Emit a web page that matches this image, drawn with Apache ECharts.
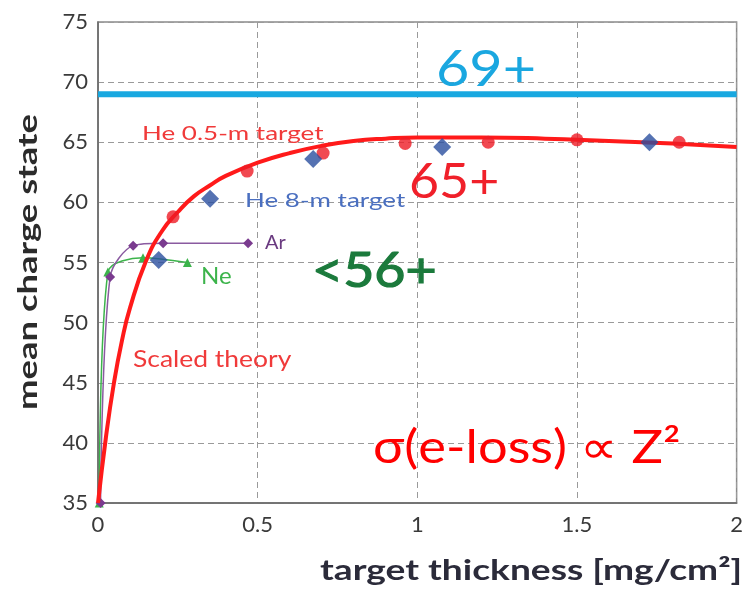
<!DOCTYPE html>
<html>
<head>
<meta charset="utf-8">
<script src="https://cdn.jsdelivr.net/npm/echarts@6/dist/echarts.min.js"></script>
<style>html,body{margin:0;padding:0;background:#fff}#c{width:746px;height:590px}</style>
</head>
<body>
<div id="c"></div>
<script>
// x: target thickness [mg/cm2], y: mean charge state
var xTicks = ['0', '0.5', '1', '1.5', '2'];
var yTicks = [35, 40, 45, 50, 55, 60, 65, 70, 75];
var theoryX = [0, 0.025, 0.05, 0.075, 0.1, 0.15, 0.2, 0.25, 0.3, 0.35, 0.4, 0.5, 0.6, 0.7, 0.8, 0.9, 1.0, 1.2, 1.4, 1.6, 1.8, 2.0];
var theoryY = [35, 40.5, 45, 48.5, 51.2, 55.1, 57.6, 59.2, 60.5, 61.4, 62.2, 63.3, 64.1, 64.7, 65.1, 65.3, 65.4, 65.4, 65.3, 65.1, 64.9, 64.6];
var he05X = [0.235, 0.467, 0.705, 0.962, 1.222, 1.50, 1.82];
var he05Y = [58.8, 62.6, 64.1, 64.9, 65.0, 65.2, 65.0];
var he8X = [0.19, 0.351, 0.674, 1.078, 1.727];
var he8Y = [55.2, 60.3, 63.6, 64.6, 65.0];
var arX = [0.008, 0.038, 0.11, 0.204, 0.47];
var arY = [35, 53.8, 56.4, 56.6, 56.6];
var neX = [0.004, 0.031, 0.141, 0.28];
var neY = [35, 54.2, 55.4, 55.0];
var limitX = [0, 2];
var limitY = [69, 69];

function pairs(xs, ys) { return xs.map(function (x, i) { return [x, ys[i]]; }); }

var FONT = 'Lato, "Open Sans", sans-serif';
function label(text, x, y, size, color, sx, extra) {
  var st = { text: text, fill: color, font: (extra && extra.weight ? extra.weight + ' ' : '') + size + 'px ' + FONT,
    align: 'left', verticalAlign: 'middle', textAlign: 'left', textVerticalAlign: 'middle' };
  if (extra && extra.stroke) { st.stroke = color; st.lineWidth = extra.stroke; }
  return { type: 'text', x: x, y: y, scaleX: sx, scaleY: 1, rotation: extra && extra.rot ? extra.rot : 0, z: 100, style: st };
}

var chart = echarts.init(document.getElementById('c'), null, { renderer: 'canvas' });
chart.setOption({
  animation: false,
  backgroundColor: '#ffffff',
  grid: { left: 98, right: 8, top: 22, bottom: 87, show: true, borderColor: '#8a8a8a', borderWidth: 1.5, backgroundColor: 'transparent' },
  xAxis: {
    type: 'value', min: 0, max: 2, interval: 0.5,
    axisLine: { show: true, lineStyle: { color: '#666', width: 1.5 } },
    axisTick: { show: false },
    axisLabel: { color: '#3a3a3a', fontSize: 22, fontFamily: FONT, margin: 11,
      formatter: function (v) { var i = Math.round(v / 0.5); return xTicks[i]; } },
    splitLine: { show: true, lineStyle: { color: '#9a9a9a', type: [6, 4], width: 1 } }
  },
  yAxis: {
    type: 'value', min: 35, max: 75, interval: 5,
    axisLine: { show: true, lineStyle: { color: '#666', width: 1.5 } },
    axisTick: { show: false },
    axisLabel: { color: '#3a3a3a', fontSize: 22, fontFamily: FONT, margin: 10,
      formatter: function (v) { return yTicks.indexOf(v) >= 0 ? String(v) : ''; } },
    splitLine: { show: true, lineStyle: { color: '#9a9a9a', type: [6, 4], width: 1 } }
  },
  graphic: [
    // axis titles
    label('target thickness [mg/cm²]', 320, 571, 29, '#2b2b3a', 1.28, { weight: 'bold' }),
    label('mean charge state', 28, 410, 27, '#2b2b2b', 1.35, { weight: 'bold', rot: Math.PI / 2 }),
    // annotations
    label('69+', 436, 70, 50, '#1aa7e0', 1.15),
    label('65+', 409, 183, 48, '#f0202a', 1.08),
    label('<56+', 312, 272, 48, '#1b7a3c', 1.12, { stroke: 1.2 }),
    label('He 0.5-m target', 142, 134, 20, '#f03a3a', 1.3),
    label('He 8-m target', 245, 201, 20, '#4a6fc0', 1.3),
    label('Ar', 265, 243, 19, '#6a3a80', 1.05),
    label('Ne', 201, 276, 24, '#3cb44b', 1.0),
    label('Scaled theory', 133, 360, 23, '#f03a3a', 1.15),
    label('σ(e-loss) ∝ Z²', 373, 448, 46, '#ff0000', 1.14)
  ],
  series: [
    { name: 'limit', type: 'line', data: pairs(limitX, limitY), showSymbol: false, symbol: 'none',
      lineStyle: { color: '#18a8e0', width: 6 }, z: 3 },
    { name: 'Ne', type: 'line', smooth: 0.3, data: pairs(neX, neY), symbol: 'triangle', symbolSize: 9,
      itemStyle: { color: '#3cb44b' }, lineStyle: { color: '#3cb44b', width: 1.5 }, z: 4 },
    { name: 'Ar', type: 'line', smooth: 0.3, data: pairs(arX, arY), symbol: 'diamond', symbolSize: 10,
      itemStyle: { color: '#7a3b8f' }, lineStyle: { color: '#8a5aa0', width: 1.5 }, z: 4 },
    { name: 'Scaled theory', type: 'line', smooth: true, data: pairs(theoryX, theoryY), symbol: 'none',
      lineStyle: { color: '#ff1a1a', width: 4 }, z: 5 },
    { name: 'He 0.5-m target', type: 'scatter', data: pairs(he05X, he05Y), symbol: 'circle', symbolSize: 13,
      itemStyle: { color: '#ee1c25' }, z: 6 },
    { name: 'He 8-m target', type: 'scatter', data: pairs(he8X, he8Y), symbol: 'diamond', symbolSize: 18,
      itemStyle: { color: '#2a4f9f' }, z: 7 }
  ]
});
</script>
</body>
</html>
